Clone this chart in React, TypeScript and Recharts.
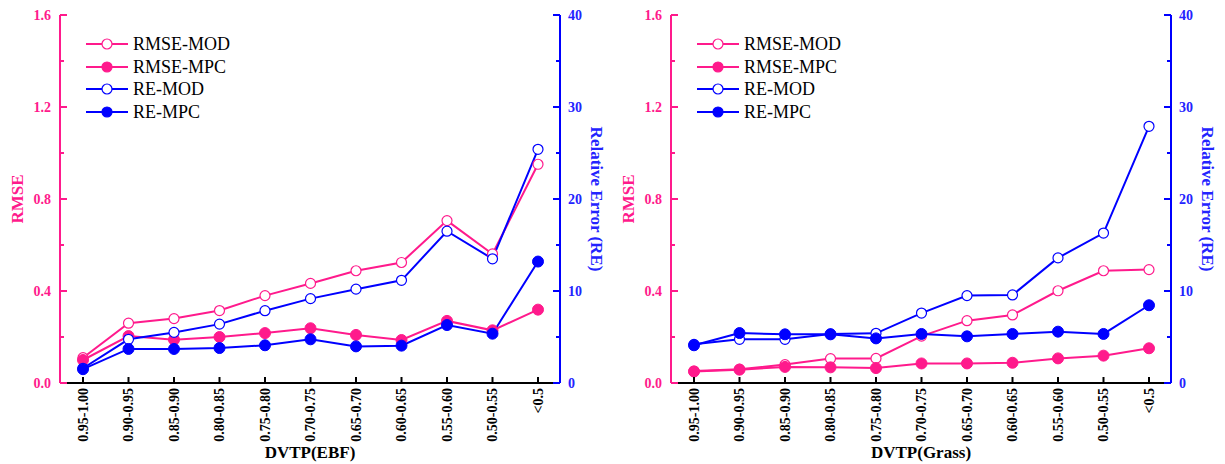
import React from 'react';
import { LineChart, Line, XAxis, YAxis } from 'recharts';

const categories = [
  '0.95-1.00', '0.90-0.95', '0.85-0.90', '0.80-0.85', '0.75-0.80', '0.70-0.75',
  '0.65-0.70', '0.60-0.65', '0.55-0.60', '0.50-0.55', '<0.5',
];

// EBF panel
const ebfRmseMod = [0.11, 0.26, 0.28, 0.315, 0.38, 0.433, 0.488, 0.524, 0.706, 0.561, 0.951];
const ebfRmseMpc = [0.1, 0.204, 0.188, 0.2, 0.217, 0.238, 0.209, 0.187, 0.27, 0.229, 0.319];
const ebfReMod = [1.6, 4.75, 5.5, 6.4, 7.86, 9.17, 10.2, 11.16, 16.5, 13.5, 25.4];
const ebfReMpc = [1.5, 3.7, 3.7, 3.8, 4.1, 4.75, 3.98, 4.06, 6.3, 5.36, 13.2];

// Grass panel
const grassRmseMod = [0.052, 0.06, 0.08, 0.106, 0.107, 0.204, 0.271, 0.296, 0.401, 0.488, 0.493];
const grassRmseMpc = [0.05, 0.058, 0.07, 0.068, 0.065, 0.085, 0.085, 0.088, 0.107, 0.119, 0.151];
const grassReMod = [4.2, 4.75, 4.75, 5.33, 5.4, 7.6, 9.5, 9.57, 13.6, 16.3, 27.9];
const grassReMpc = [4.1, 5.43, 5.29, 5.29, 4.85, 5.33, 5.07, 5.33, 5.58, 5.33, 8.45];

const rmseTicks = [0, 0.2, 0.4, 0.6, 0.8, 1.0, 1.2, 1.4, 1.6];
const reTicks = [0, 5, 10, 15, 20, 25, 30, 35, 40];

const PINK = '#ff1a8c';
const BLUE = '#0000ff';
const BLUE_TEXT = '#2323ff';
const FONT = '"Liberation Serif", "Times New Roman", serif';

const W = 612;
const H = 464;

function BottomTick(props: any) {
  const { x, y, payload } = props;
  return (
    <g>
      <line x1={x} x2={x} y1={y} y2={y - 6} stroke="#000" strokeWidth={2} />
      <text
        x={x}
        y={y + 5}
        transform={`rotate(-90 ${x} ${y + 5})`}
        textAnchor="end"
        dy="0.35em"
        fontFamily={FONT}
        fontWeight="bold"
        fontSize={14}
        fill="#000"
      >
        {payload.value}
      </text>
    </g>
  );
}

function TopTick(props: any) {
  const { x, y } = props;
  return <line x1={x} x2={x} y1={y} y2={y + 6} stroke="#000" strokeWidth={2} />;
}

function LeftTick(props: any) {
  const { x, y, payload } = props;
  const v = payload.value;
  const major = Math.round(v * 10) % 4 === 0;
  return (
    <g>
      <line x1={x} x2={x + (major ? 7 : 4)} y1={y} y2={y} stroke={PINK} strokeWidth={2} />
      {major && (
        <text x={x - 9} y={y} dy="0.35em" textAnchor="end" fontFamily={FONT} fontWeight="bold" fontSize={14} fill={PINK}>
          {v.toFixed(1)}
        </text>
      )}
    </g>
  );
}

function RightTick(props: any) {
  const { x, y, payload } = props;
  const v = payload.value;
  const major = v % 10 === 0;
  return (
    <g>
      <line x1={x} x2={x - (major ? 7 : 4)} y1={y} y2={y} stroke={BLUE} strokeWidth={2} />
      {major && (
        <text x={x + 8} y={y} dy="0.35em" textAnchor="start" fontFamily={FONT} fontWeight="bold" fontSize={14} fill={BLUE_TEXT}>
          {v}
        </text>
      )}
    </g>
  );
}

const legendItems = [
  { name: 'RMSE-MOD', color: PINK, filled: false },
  { name: 'RMSE-MPC', color: PINK, filled: true },
  { name: 'RE-MOD', color: BLUE, filled: false },
  { name: 'RE-MPC', color: BLUE, filled: true },
];

function LegendBox() {
  return (
    <div style={{ position: 'absolute', left: 86, top: 33, fontFamily: FONT, fontSize: 18, color: '#000' }}>
      {legendItems.map((it) => (
        <div key={it.name} style={{ display: 'flex', alignItems: 'center', height: 22.6 }}>
          <svg width={42} height={14} style={{ display: 'block' }}>
            <line x1={0} x2={42} y1={7} y2={7} stroke={it.color} strokeWidth={2} />
            <circle cx={21} cy={7} r={5} fill={it.filled ? it.color : '#fff'} stroke={it.color} strokeWidth={1.2} />
          </svg>
          <span style={{ marginLeft: 5, lineHeight: '20px' }}>{it.name}</span>
        </div>
      ))}
    </div>
  );
}

interface PanelProps {
  title: string;
  rmseMod: number[];
  rmseMpc: number[];
  reMod: number[];
  reMpc: number[];
  left: number;
}

function Panel({ title, rmseMod, rmseMpc, reMod, reMpc, left }: PanelProps) {
  const data = categories.map((c, i) => ({
    cat: c,
    rmseMod: rmseMod[i],
    rmseMpc: rmseMpc[i],
    reMod: reMod[i],
    reMpc: reMpc[i],
  }));

  const openDot = (color: string) => ({ r: 5, fill: '#fff', stroke: color, strokeWidth: 1.2 });
  const fullDot = (color: string) => ({ r: 5.5, fill: color, stroke: color, strokeWidth: 1 });

  return (
    <div style={{ position: 'absolute', left, top: 0, width: W, height: H }}>
      <LineChart width={W} height={H} data={data} margin={{ top: 15, right: 0, bottom: 0, left: 0 }}>
        <XAxis
          dataKey="cat"
          height={81}
          interval={0}
          padding={{ left: 23, right: 22 }}
          axisLine={{ stroke: '#000', strokeWidth: 2 }}
          tickLine={false}
          tickSize={0}
          tickMargin={0}
          tick={<BottomTick />}
          label={{
            content: (p: any) => (
              <text
                x={p.viewBox.x + p.viewBox.width / 2}
                y={p.viewBox.y + 75}
                textAnchor="middle"
                fontFamily={FONT}
                fontWeight="bold"
                fontSize={17}
                fill="#000"
              >
                {title}
              </text>
            ),
          }}
        />
        <XAxis
          xAxisId="top"
          orientation="top"
          dataKey="cat"
          height={0}
          interval={0}
          padding={{ left: 23, right: 22 }}
          axisLine={{ stroke: '#000', strokeWidth: 2 }}
          tickLine={false}
          tickSize={0}
          tickMargin={0}
          tick={<TopTick />}
        />
        <YAxis
          yAxisId="left"
          width={60}
          domain={[0, 1.6]}
          ticks={rmseTicks}
          interval={0}
          axisLine={{ stroke: PINK, strokeWidth: 2 }}
          tickLine={false}
          tickSize={0}
          tickMargin={0}
          tick={<LeftTick />}
          label={{
            content: (p: any) => {
              const cx = p.viewBox.x + 17;
              const cy = p.viewBox.y + p.viewBox.height / 2;
              return (
                <text
                  x={cx}
                  y={cy}
                  dy="0.35em"
                  transform={`rotate(-90 ${cx} ${cy})`}
                  textAnchor="middle"
                  fontFamily={FONT}
                  fontWeight="bold"
                  fontSize={17}
                  fill={PINK}
                >
                  RMSE
                </text>
              );
            },
          }}
        />
        <YAxis
          yAxisId="right"
          orientation="right"
          width={52}
          domain={[0, 40]}
          ticks={reTicks}
          interval={0}
          axisLine={{ stroke: BLUE, strokeWidth: 2 }}
          tickLine={false}
          tickSize={0}
          tickMargin={0}
          tick={<RightTick />}
          label={{
            content: (p: any) => {
              const cx = p.viewBox.x + 37;
              const cy = p.viewBox.y + p.viewBox.height / 2;
              return (
                <text
                  x={cx}
                  y={cy}
                  dy="0.35em"
                  transform={`rotate(90 ${cx} ${cy})`}
                  textAnchor="middle"
                  fontFamily={FONT}
                  fontWeight="bold"
                  fontSize={17}
                  fill={BLUE_TEXT}
                >
                  Relative Error (RE)
                </text>
              );
            },
          }}
        />
        <Line yAxisId="left" dataKey="rmseMod" stroke={PINK} strokeWidth={2} dot={openDot(PINK)} isAnimationActive={false} />
        <Line yAxisId="left" dataKey="rmseMpc" stroke={PINK} strokeWidth={2} dot={fullDot(PINK)} isAnimationActive={false} />
        <Line yAxisId="right" dataKey="reMod" stroke={BLUE} strokeWidth={2} dot={openDot(BLUE)} isAnimationActive={false} />
        <Line yAxisId="right" dataKey="reMpc" stroke={BLUE} strokeWidth={2} dot={fullDot(BLUE)} isAnimationActive={false} />
      </LineChart>
      <LegendBox />
    </div>
  );
}

export default function App() {
  return (
    <div style={{ position: 'absolute', left: 0, top: 0, width: 1225, height: 464, background: '#fff' }}>
      <Panel title="DVTP(EBF)" rmseMod={ebfRmseMod} rmseMpc={ebfRmseMpc} reMod={ebfReMod} reMpc={ebfReMpc} left={0} />
      <Panel title="DVTP(Grass)" rmseMod={grassRmseMod} rmseMpc={grassRmseMpc} reMod={grassReMod} reMpc={grassReMpc} left={611} />
    </div>
  );
}
